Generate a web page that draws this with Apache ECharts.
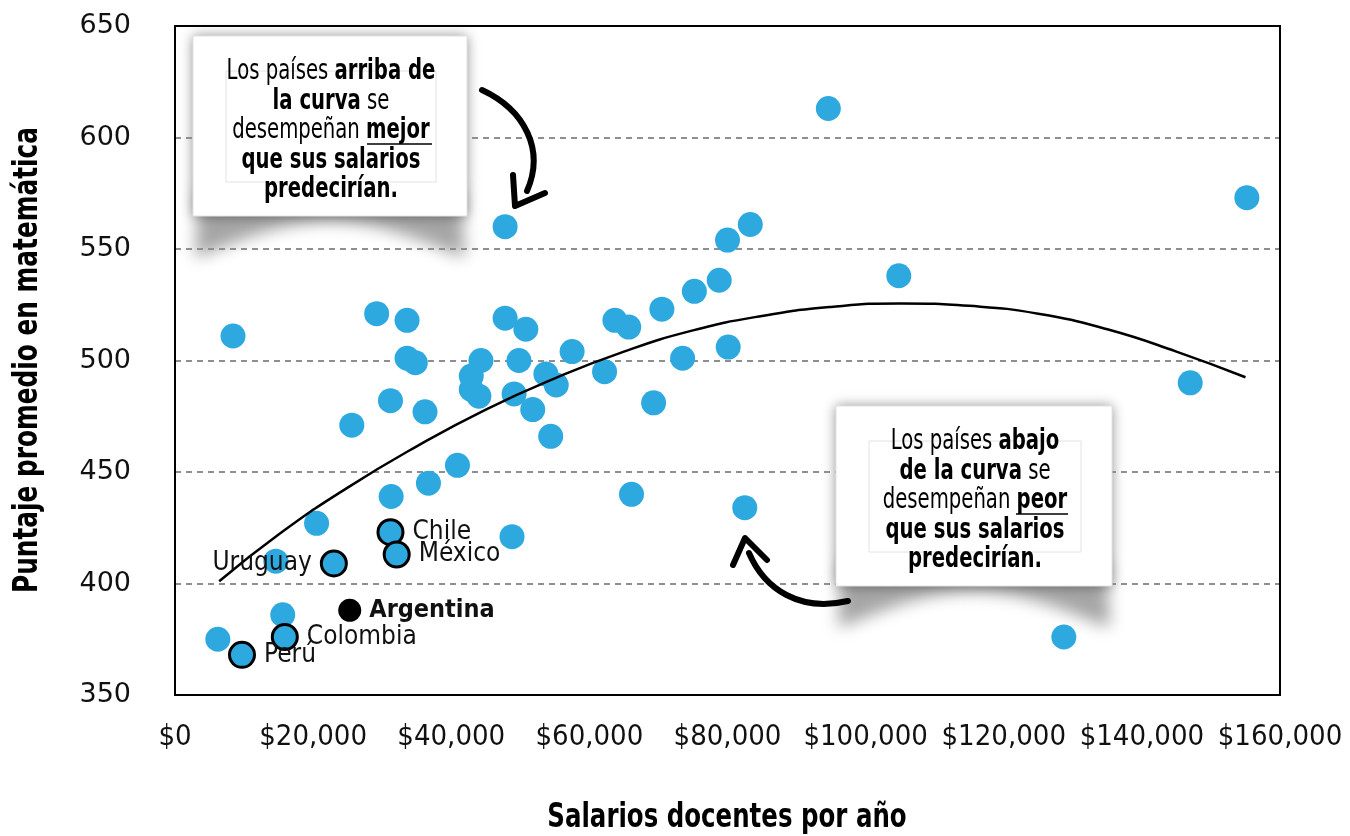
<!DOCTYPE html>
<html><head><meta charset="utf-8">
<script src="https://cdn.jsdelivr.net/npm/echarts@6/dist/echarts.min.js"></script>
<style>html,body{margin:0;padding:0;background:#fff}#c{width:1350px;height:836px}</style>
</head><body><div id="c"></div>
<script>
// ---- data ----
const xTickLabels = ['$0','$20,000','$40,000','$60,000','$80,000','$100,000','$120,000','$140,000','$160,000'];
const salaries = [6200,8400,14600,15600,20500,25600,29200,31200,31300,33600,33600,34800,36200,36700,40900,42900,42900,44000,44300,47800,47800,48800,49100,49800,50800,51800,53700,55200,54400,57500,62200,63700,65700,66100,69300,70500,73500,75200,78800,80000,80100,82500,83300,94600,104800,128700,147000,155200];
const scores   = [375,511,410,386,427,471,521,482,439,518,501,499,477,445,453,493,487,484,500,519,560,421,485,500,514,478,494,489,466,504,495,518,515,440,481,523,501,531,536,554,506,434,561,613,538,376,490,573];
const namedCountries = ['Chile','México','Uruguay','Argentina','Colombia','Perú'];
const namedSalaries  = [31200,32100,23000,25300,15900,9700];
const namedScores    = [423,413,409,388,376,368];
const trendSalaries = [6400,15000,25000,35000,45000,55000,65000,75000,85000,95000,105000,115000,125000,135000,145000,155000];
const trendScores   = [401,422,443,461.5,478,492,504,513.5,520,524,525.6,524.5,521,514,504,492.5];

const COND = '"Liberation Sans Narrow","DejaVu Sans Condensed","Roboto Condensed","Open Sans",sans-serif';
const BLUE = '#2DA9E0';

const chart = echarts.init(document.getElementById('c'), null, {renderer:'canvas'});

const plain = salaries.map((s,i)=>[s,scores[i]]);
const named = namedCountries.map((n,i)=>{
  const isArg = n==='Argentina';
  return {
    name:n, value:[namedSalaries[i], namedScores[i]],
    itemStyle: isArg ? {color:'#000', borderWidth:0, opacity:1} : {},
    symbolSize: isArg ? 23 : 25,
    label: {position: n==='Uruguay' ? 'left' : 'right', fontWeight: isArg ? 'bold':'normal', fontSize: isArg ? 25 : 26}
  };
});
const trend = trendSalaries.map((s,i)=>[s,trendScores[i]]);

// annotation box helper (decoration)
function box(x,y,w,h,textLines,ul){
  const els=[];
  const off=4000, pts=[];
  pts.push([x+6-off,y+h-25]); pts.push([x+w-6-off,y+h-25]); pts.push([x+w-2-off,y+h+40]);
  for(let k=0;k<=20;k++){const t=1-k/20; pts.push([x+8+t*(w-16)-off, y+h+40-34*Math.sin(Math.PI*t)]);}
  pts.push([x+2-off,y+h+40]);
  els.push({type:'polygon', z:-5, silent:true, shape:{points:pts},
    style:{fill:'rgba(0,0,0,0.5)', shadowBlur:16, shadowColor:'rgba(0,0,0,0.7)', shadowOffsetX:off}});
  els.push({type:'rect', z:-5, silent:true, shape:{x:x,y:y,width:w,height:h},
    style:{fill:'#fff', shadowBlur:12, shadowColor:'rgba(0,0,0,0.45)'}});
  els.push({type:'rect', z:50, silent:true, shape:{x:x,y:y,width:w,height:h},
    style:{fill:'#fff', stroke:'#e2e2e2', lineWidth:1}});
  els.push({type:'rect', z:51, silent:true, shape:{x:x+33,y:y+35,width:w-64,height:h-69},
    style:{fill:null, stroke:'#e2e2e2', lineWidth:1}});
  els.push({type:'text', z:52, silent:true, x:x+w/2+1, y:y+h/2+5, scaleX:0.78,
    style:{text:textLines, align:'center', verticalAlign:'middle', lineHeight:29.5,
      rich:{r:{fontFamily:COND,fontSize:28,fontWeight:'normal',color:'#000',lineHeight:29.5},
            b:{fontFamily:COND,fontSize:28,fontWeight:'bold',color:'#000',lineHeight:29.5}}}});
  els.push({type:'line', z:52, silent:true, shape:{x1:ul[0],y1:ul[2],x2:ul[1],y2:ul[2]}, style:{stroke:'#000',lineWidth:1.5}});
  return els;
}

const graphics = [].concat(
  box(193,36,274,180,
    '{r|Los países }{b|arriba de}\n{b|la curva}{r| se}\n{r|desempeñan }{b|mejor}\n{b|que sus salarios}\n{b|predecirían.}',
    [367,432,144]),
  box(836,406,276,180,
    '{r|Los países }{b|abajo}\n{b|de la curva}{r| se}\n{r|desempeñan }{b|peor}\n{b|que sus salarios}\n{b|predecirían.}',
    [1016,1068,514]),
  [
   {type:'rect', z:40, silent:true, shape:{x:175,y:26,width:1105,height:669},
    style:{fill:null, stroke:'#000', lineWidth:2}},
   {type:'text', z:40, silent:true, x:727, y:818, scaleX:0.8,
    style:{text:'Salarios docentes por año', fontFamily:COND, fontWeight:'bold', fontSize:34, fill:'#000', align:'center', verticalAlign:'middle'}},
   {type:'text', z:40, silent:true, x:28, y:360, rotation:Math.PI/2, scaleX:0.81,
    style:{text:'Puntaje promedio en matemática', fontFamily:COND, fontWeight:'bold', fontSize:34, fill:'#000', align:'center', verticalAlign:'middle'}},
   // arrow 1
   {type:'bezierCurve', z:60, silent:true, shape:{x1:482,y1:90,cpx1:525,cpy1:110,cpx2:545,cpy2:150,x2:527,y2:191},
    style:{stroke:'#000',lineWidth:6,lineCap:'round',fill:null}},
   {type:'polyline', z:60, silent:true, shape:{points:[[513,175],[515,206],[545,193]]},
    style:{stroke:'#000',lineWidth:6,lineCap:'round',lineJoin:'round',fill:null}},
   // arrow 2
   {type:'bezierCurve', z:60, silent:true, shape:{x1:848,y1:601,cpx1:800,cpy1:612,cpx2:765,cpy2:590,x2:749,y2:553},
    style:{stroke:'#000',lineWidth:6,lineCap:'round',fill:null}},
   {type:'polyline', z:60, silent:true, shape:{points:[[733,565],[745,538],[767,560]]},
    style:{stroke:'#000',lineWidth:6,lineCap:'round',lineJoin:'round',fill:null}}
  ]
);

chart.setOption({
  animation:false,
  backgroundColor:'#fff',
  grid:{left:175,right:70,top:26,bottom:141,show:false,containLabel:false},
  xAxis:{type:'value',min:0,max:160000,interval:20000,
    axisLine:{show:false},axisTick:{show:false},splitLine:{show:false},
    axisLabel:{formatter:v=>xTickLabels[Math.round(v/20000)],fontFamily:COND,fontSize:29,color:'#111',margin:28,
      showMinLabel:true,showMaxLabel:true,hideOverlap:false}},
  yAxis:{type:'value',min:350,max:650,interval:50,
    axisLine:{show:false},axisTick:{show:false},
    splitLine:{show:true,lineStyle:{type:[6,5],color:'#8f8f8f',width:2}},
    axisLabel:{fontFamily:'"DejaVu Sans",sans-serif',fontSize:27,color:'#111',margin:44}},
  graphic:graphics,
  series:[
    {type:'scatter',data:plain,symbolSize:25,itemStyle:{color:BLUE,opacity:1},z:2},
    {type:'line',data:trend,smooth:true,showSymbol:false,lineStyle:{color:'#000',width:2.5},z:3},
    {type:'scatter',data:named,symbolSize:25,z:4,
      itemStyle:{color:BLUE,borderColor:'#000',borderWidth:3,opacity:1},
      label:{show:true,formatter:'{b}',distance:8,fontFamily:COND,fontSize:26,color:'#111'}}
  ]
});
</script></body></html>
